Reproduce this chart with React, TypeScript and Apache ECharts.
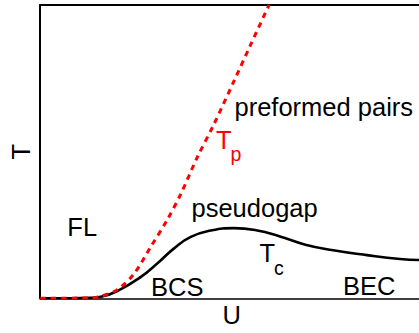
import React, { useEffect, useRef } from "react";
import * as echarts from "echarts";

// U axis (0..100), T axis (0..100), arbitrary units
const tcU = [0, 8.16, 13.42, 16.05, 20.45, 26.58, 30.97, 35.26, 39.74, 45, 51.05, 57, 63.5, 70, 77.37, 86.24, 95, 100];
const tcT = [0, 0, 0.17, 0.5, 2.56, 7.31, 11.96, 16.94, 20.93, 23.09, 23.92, 23.2, 21.0, 18.27, 16.38, 14.72, 13.39, 13.06];

const tpU = [0, 13.42, 16.05, 20.45, 24.74, 29.21, 33.6, 37.11, 41.5, 45.79, 51.05, 55.53, 60.4];
const tpT = [0, 0.17, 0.66, 2.99, 8.31, 17.61, 26.91, 35.55, 48.17, 59.14, 73.75, 86.38, 100];

const FONT = "Liberation Sans";

export default function App() {
  const ref = useRef<HTMLDivElement>(null);
  useEffect(() => {
    document.body.style.margin = "0";
    const chart = echarts.init(ref.current!, null, { renderer: "svg" });
    const txt = (text: string, x: number, y: number, size: number, color = "#000") => ({
      type: "text",
      x,
      y,
      style: { text, fontSize: size, fontFamily: FONT, fill: color, align: "left", verticalAlign: "middle" },
    });
    chart.setOption({
      animation: false,
      grid: { left: 39, right: 0, top: 5, bottom: 27 },
      xAxis: [
        {
          type: "value",
          min: 0,
          max: 100,
          name: "U",
          nameLocation: "middle",
          nameGap: 3.7,
          nameTextStyle: { fontSize: 25.5, fontFamily: FONT, color: "#000", padding: [0, 0, 0, 4] },
          axisLine: { show: true, lineStyle: { color: "#000", width: 1.5 } },
          axisTick: { show: false },
          axisLabel: { show: false },
          splitLine: { show: false },
        },
        {
          type: "value",
          position: "top",
          min: 0,
          max: 100,
          axisLine: { show: true, lineStyle: { color: "#000", width: 2 } },
          axisTick: { show: false },
          axisLabel: { show: false },
          splitLine: { show: false },
        },
      ],
      yAxis: {
        type: "value",
        min: 0,
        max: 100,
        name: "T",
        nameLocation: "middle",
        nameGap: 6.2,
        nameTextStyle: { fontSize: 25.5, fontFamily: FONT, color: "#000" },
        axisLine: { show: true, lineStyle: { color: "#000", width: 2 } },
        axisTick: { show: false },
        axisLabel: { show: false },
        splitLine: { show: false },
      },
      series: [
        {
          type: "line",
          data: tcU.map((u, i) => [u, tcT[i]]),
          smooth: 0.5,
          symbol: "none",
          lineStyle: { color: "#000", width: 2.6 },
          z: 2,
        },
        {
          type: "line",
          data: tpU.map((u, i) => [u, tpT[i]]),
          smooth: 0.3,
          symbol: "none",
          lineStyle: { color: "#ff0000", width: 3, type: [5.5, 5] },
          z: 3,
        },
      ],
      graphic: [
        txt("preformed pairs", 234.5, 107.3, 25.5),
        txt("T", 216, 140.3, 25.5, "#ff0000"),
        txt("p", 230.5, 154.4, 19.5, "#ff0000"),
        txt("pseudogap", 191.5, 208.3, 25.5),
        txt("FL", 67.3, 227.3, 25.5),
        txt("T", 259.5, 253, 25.5),
        txt("c", 274, 268.4, 19.5),
        txt("BCS", 151, 287.3, 25.5),
        txt("BEC", 343, 286.3, 25.5),
      ],
    });
    return () => chart.dispose();
  }, []);
  return <div ref={ref} style={{ width: 419, height: 333 }} />;
}
